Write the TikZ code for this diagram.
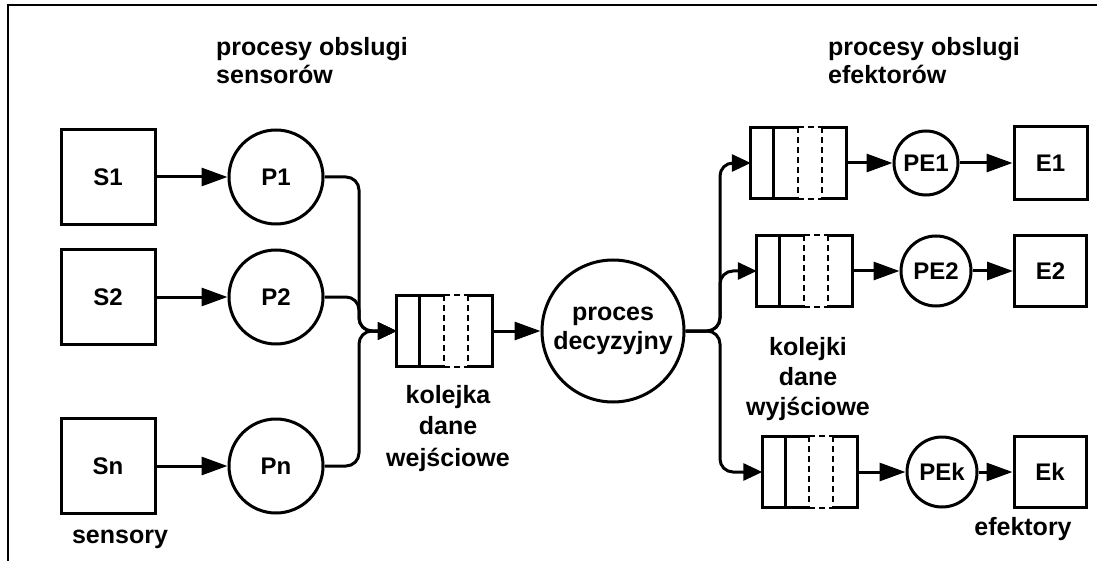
\documentclass[tikz,border=0pt]{standalone}
\usepackage{fontspec}
\setmainfont{Liberation Sans}
\usetikzlibrary{arrows.meta,calc}
\tikzset{
  lw/.style={line width=3pt},
  sbox/.style={draw, lw, rectangle, inner sep=0pt, font=\bfseries\fontsize{24}{27}\selectfont},
  proc/.style={draw, lw, circle, inner sep=0pt, font=\bfseries\fontsize{24}{27}\selectfont},
  lbl/.style={inner sep=0pt, font=\bfseries\fontsize{25}{28}\selectfont},
  arr/.style={lw, -{Triangle[length=26pt,width=18pt]}},
  sarr/.style={lw, rounded corners=13pt, -{Triangle[length=19pt,width=17pt]}},
  qbox/.style={rectangle, inner sep=0pt, minimum width=95pt, minimum height=71pt},
  qdash/.style={line width=2.3pt, dash pattern=on 6pt off 4pt},
}
\newcommand\drawqueue[3]{%
  \node[qbox] (#1) at (#2,#3) {};
  \draw[lw] ($(#1.north west)+(47,0)$) -- (#1.north west) -- (#1.south west) -- ($(#1.south west)+(47,0)$);
  \draw[lw] ($(#1.north west)+(23,0)$) -- ($(#1.south west)+(23,0)$);
  \draw[lw] ($(#1.north west)+(71,0)$) -- (#1.north east) -- (#1.south east) -- ($(#1.south west)+(71,0)$);
  \draw[qdash] ($(#1.north west)+(47,0)$) -- ($(#1.south west)+(47,0)$);
  \draw[qdash] ($(#1.north west)+(71,0)$) -- ($(#1.south west)+(71,0)$);
  \draw[qdash] ($(#1.north west)+(47,0)$) -- ($(#1.north west)+(71,0)$);
  \draw[qdash] ($(#1.south west)+(47,0)$) -- ($(#1.south west)+(71,0)$);
}
\begin{document}
\begin{tikzpicture}[x=1pt,y=-1pt]
\useasboundingbox (0,0) rectangle (1097,561);
% frame
\draw[line width=2.5pt] (8,561) -- (8,5) -- (1097,5);

% sensors
\node[sbox, minimum width=94pt, minimum height=95pt] (S1) at (108,177) {S1};
\node[sbox, minimum width=94pt, minimum height=95pt] (S2) at (108,297) {S2};
\node[sbox, minimum width=94pt, minimum height=95pt] (Sn) at (108,466) {Sn};
% processes
\node[proc, minimum size=94pt] (P1) at (276,177) {P1};
\node[proc, minimum size=94pt] (P2) at (276,297) {P2};
\node[proc, minimum size=94pt] (Pn) at (276,466) {Pn};

\draw[arr] (S1) -- (P1);
\draw[arr] (S2) -- (P2);
\draw[arr] (Sn) -- (Pn);

% input queue
\drawqueue{Qin}{444.5}{331}
\coordinate (mergeX) at (359,331);
\draw[sarr] (P1.east) -| (mergeX) -- (Qin.west);
\draw[sarr] (P2.east) -| (mergeX) -- (Qin.west);
\draw[sarr] (Pn.east) -| (mergeX) -- (Qin.west);

% decision process
\node[proc, minimum size=142pt, font=\bfseries\fontsize{25}{29}\selectfont, align=center] (D) at (613,331) {proces\\decyzyjny};
\draw[arr] (Qin.east) -- (D.west);

% output queues
\drawqueue{Q1}{798.5}{163}
\drawqueue{Q2}{804.5}{271}
\drawqueue{Qk}{810}{472}
\coordinate (splitX) at (720,331);
\draw[sarr] (D.east) -- (splitX) |- (Q1.west);
\draw[sarr] (D.east) -- (splitX) |- (Q2.west);
\draw[sarr] (D.east) -- (splitX) |- (Qk.west);

% effector processes
\node[proc, minimum size=64pt] (PE1) at (926,163) {PE1};
\node[proc, minimum size=70pt] (PE2) at (936,271) {PE2};
\node[proc, minimum size=70pt] (PEk) at (942,472) {PEk};
\draw[arr] (Q1.east) -- (PE1.west);
\draw[arr] (Q2.east) -- (PE2.west);
\draw[arr] (Qk.east) -- (PEk.west);

% effectors
\node[sbox, minimum width=73pt, minimum height=73pt] (E1) at (1050.5,163) {E1};
\node[sbox, minimum width=72pt, minimum height=71pt] (E2) at (1050.5,271) {E2};
\node[sbox, minimum width=72pt, minimum height=71pt] (Ek) at (1050,472) {Ek};
\draw[arr] (PE1.east) -- (E1.west);
\draw[arr] (PE2.east) -- (E2.west);
\draw[arr] (PEk.east) -- (Ek.west);

% labels
\node[lbl, anchor=north west, align=left] (Lps) at (216,37) {procesy obslugi\\sensorów};
\node[lbl, anchor=north west, align=left] (Lpe) at (828,37) {procesy obslugi\\efektorów};
\node[lbl, anchor=north, align=center, font=\bfseries\fontsize{25}{31.5}\selectfont] (Lqin) at (448,385) {kolejka\\dane\\wejściowe};
\node[lbl, anchor=north, align=center, font=\bfseries\fontsize{25}{30}\selectfont] (Lqout) at (808,337) {kolejki\\dane\\wyjściowe};
\node[lbl, anchor=base] (Ls) at (120,543) {sensory};
\node[lbl, anchor=base] (Le) at (1023,535) {efektory};
\end{tikzpicture}
\end{document}
